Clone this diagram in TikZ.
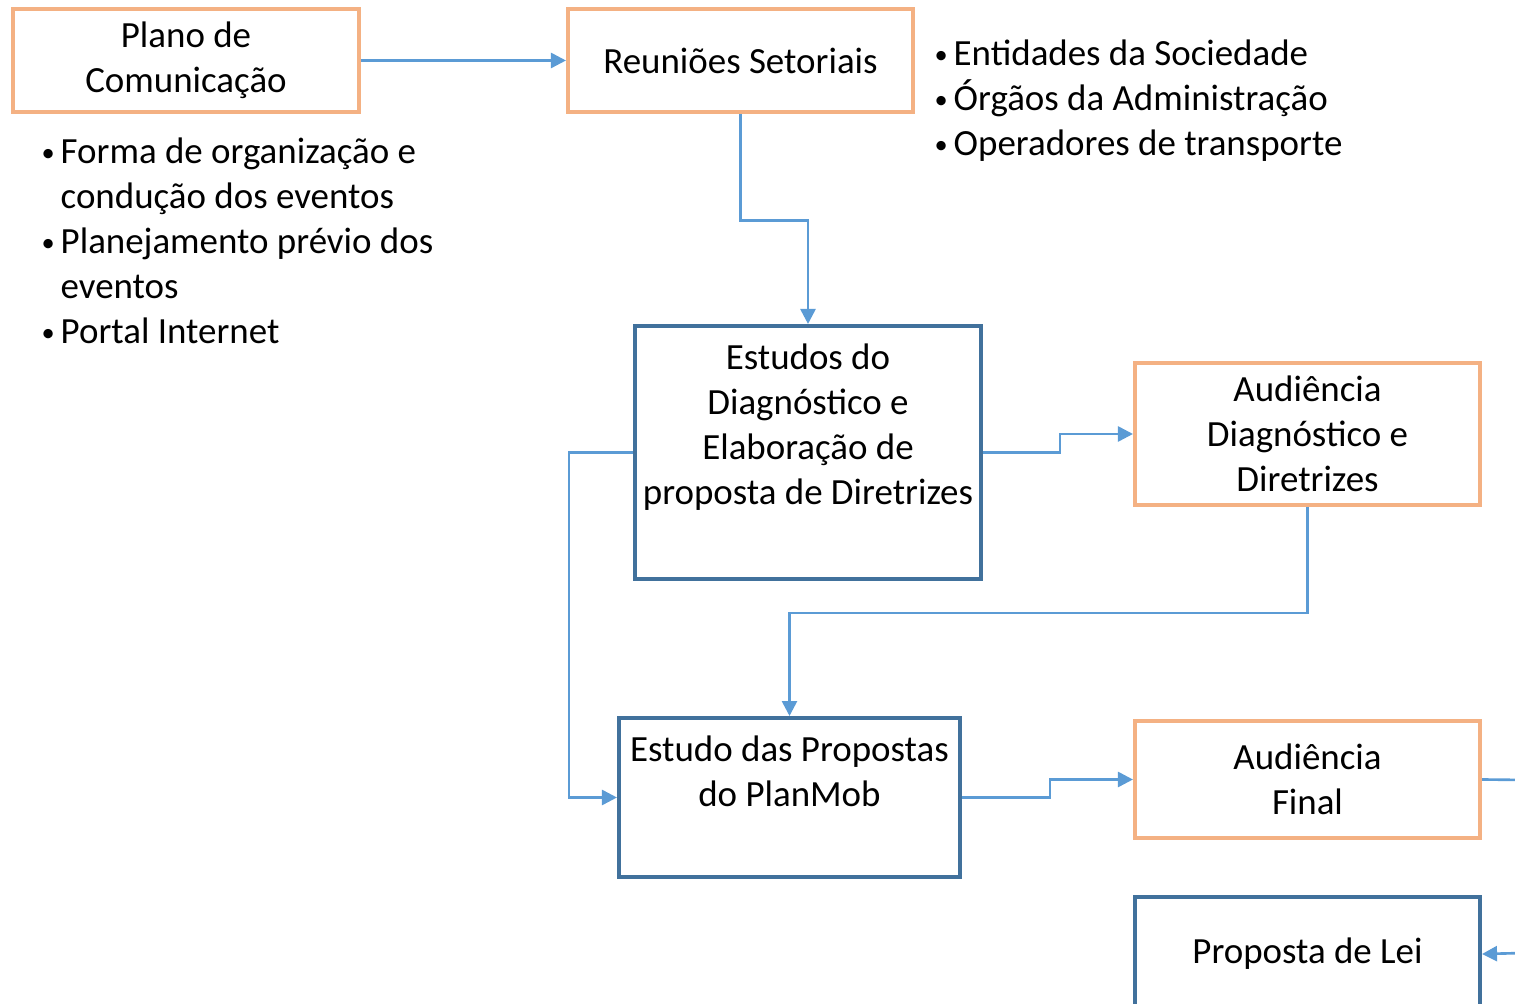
\documentclass[tikz,border=0pt]{standalone}
\usepackage{fontspec}
\setmainfont{Carlito}
\usetikzlibrary{arrows.meta,positioning}
\definecolor{planorange}{RGB}{244,177,131}
\definecolor{studyblue}{RGB}{65,113,156}
\definecolor{linkblue}{RGB}{91,155,213}
\newcommand{\itm}{\makebox[0.19cm][l]{\raisebox{0.02cm}{\fontsize{7.5}{0}\selectfont\textbullet}}}
\newcommand{\nitm}{\hspace*{0.19cm}}
\tikzset{
  % texto base
  every node/.append style={font=\fontsize{10.5}{12.8}\selectfont},
  % caixa base
  box/.style={
    draw,
    line width=1.1pt,
    inner sep=0pt,
    minimum width=3.45cm,
    align=center
  },
  % eventos (laranja)
  evento/.style={box, draw=planorange},
  % estudos (azul)
  estudo/.style={box, draw=studyblue},
  % listas
  lista/.style={inner sep=0pt, align=left, anchor=north west},
  % setas
  arr/.style={-{Triangle[length=0.15cm,width=0.15cm]}, line width=0.75pt, linkblue},
}
\begin{document}
\begin{tikzpicture}[x=0.01cm, y=-0.01cm]
    \useasboundingbox (0,0) rectangle (1515,1004);

    % Eventos
    \node[evento, minimum height=1.03cm] (plano) at (186,60.5) {Plano de\\Comunicação};
    \node[evento, minimum height=1.03cm] (reunioes) at (740.5,60.5) {Reuniões Setoriais};
    \node[evento, minimum height=1.42cm] (audDiag) at (1307.5,434) {Audiência\\Diagnóstico e\\Diretrizes};
    \node[evento, minimum height=1.17cm] (audFinal) at (1307.5,779.5) {Audiência\\Final};

    % Estudos
    \node[estudo, minimum width=3.46cm, minimum height=2.53cm] (diag) at (808,452.5)
        {\parbox[c][2.17cm][t]{3.4cm}{\centering Estudos do\\Diagnóstico e\\Elaboração de\\proposta de Diretrizes}};
    \node[estudo, minimum width=3.41cm, minimum height=1.59cm] (propostas) at (789.5,797.5)
        {\parbox[c][1.23cm][t]{3.4cm}{\centering Estudo das Propostas\\do PlanMob}};
    \node[estudo, minimum height=1.14cm] (lei) at (1307.5,954) {Proposta de Lei};

    % Listas
    \node[lista] (listaPlano) at (41,137) {\itm Forma de organização e\\\nitm condução dos eventos\\\itm Planejamento prévio dos\\\nitm eventos\\\itm Portal Internet};
    \node[lista] (listaReun) at (934,39) {\itm Entidades da Sociedade\\\itm Órgãos da Administração\\\itm Operadores de transporte};

    % Pontas fora da figura
    \coordinate (saidaFinal) at (1525,780);
    \coordinate (entradaLei) at (1525,953);

    % Conexoes
    \draw[arr] (plano.east) -- (reunioes.west);
    \draw[arr] (reunioes.south) -- ++(0,106.5) -| (diag.north);
    \draw[arr] (diag.east) -- ++(77,0) |- (audDiag.west);
    \draw[arr] (diag.west) -- ++(-64,0) |- (propostas.west);
    \draw[arr] (audDiag.south) -- ++(0,106) -| (propostas.north);
    \draw[arr] (propostas.east) -- ++(88,0) |- (audFinal.west);
    \draw[line width=0.75pt, linkblue] (audFinal.east) -- (saidaFinal);
    \draw[arr] (entradaLei) -- (lei.east);
\end{tikzpicture}
\end{document}
